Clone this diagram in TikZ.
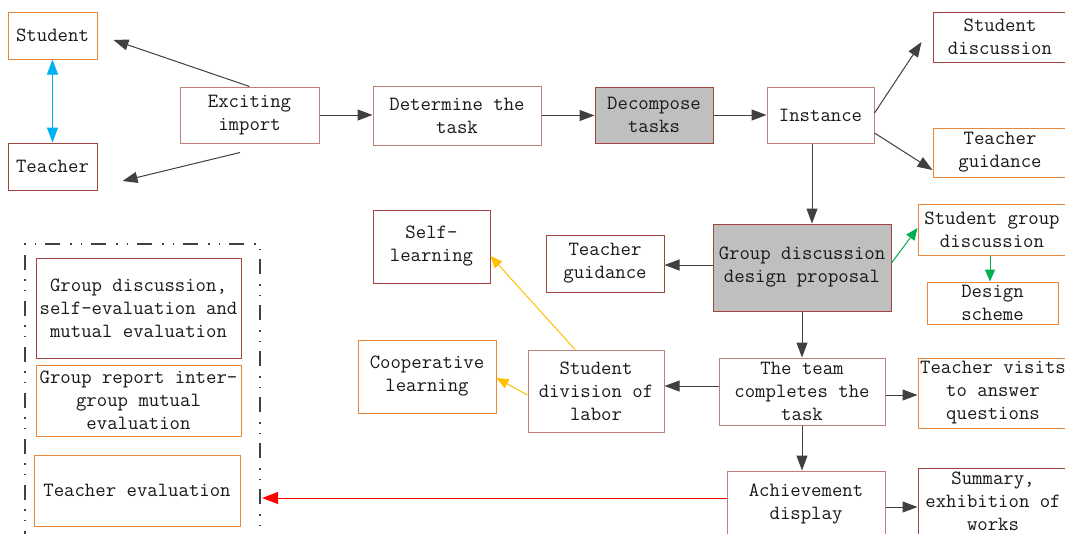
\documentclass[tikz,border=0pt]{standalone}
\usetikzlibrary{arrows.meta,calc}
\definecolor{brick}{HTML}{A5443F}
\definecolor{rosy}{HTML}{C07F7A}
\definecolor{amber}{HTML}{E9883A}
\definecolor{ink}{HTML}{404040}
\definecolor{shade}{HTML}{BFBFBF}
\definecolor{sky}{HTML}{00B0F0}
\definecolor{leaf}{HTML}{00B050}
\definecolor{gold}{HTML}{FFC000}
\definecolor{alarm}{HTML}{FF0000}
\begin{document}
\begin{tikzpicture}[x=1pt,y=-1pt,
  box/.style={draw=brick, rectangle, line width=1pt, align=center, inner sep=0pt,
    font=\ttfamily\fontsize{20.2}{23}\selectfont, text=black!90},
  rosebox/.style={box, draw=rosy},
  ambox/.style={box, draw=amber},
  greybox/.style={box, fill=shade},
  sz/.style 2 args={minimum width=#1pt, minimum height=#2pt},
  flow/.style={draw=ink, line width=1pt, -{Triangle[length=15pt,width=11pt]}},
  yflow/.style={draw=gold, line width=1pt, -{Triangle[length=12pt,width=10pt]}},
  gflow/.style={draw=leaf, line width=1pt, -{Triangle[length=12pt,width=10pt]}},
  frame/.style={draw=ink, line width=2.3pt,
    dash pattern=on 15pt off 9pt on 1.5pt off 9pt on 1.5pt off 10pt},
]
\clip (0,0) rectangle (1065,533);
\fill[white] (0,0) rectangle (1065,533);

% left pair and opening
\node[ambox, sz={89}{47}] (student) at (52.5,35.5) {Student};
\node[box, sz={89}{47}] (teacher) at (52.5,166.5) {Teacher};
\node[rosebox, sz={139}{56}] (exciting) at (249.5,115) {Exciting\\import};

% top row
\node[rosebox, sz={168}{59}] (determine) at (457,115.5) {Determine the\\task};
\node[greybox, sz={118}{56}] (decompose) at (654,115) {Decompose\\tasks};
\node[rosebox, sz={107}{56}] (instance) at (820.5,115) {Instance};
\node[box, sz={134}{50}] (studdisc) at (1000,37) {Student\\discussion};
\node[ambox, sz={134}{49}] (guideR) at (1000,152.5) {Teacher\\guidance};

% middle
\node[greybox, sz={178}{87}] (proposal) at (802,267.5) {Group discussion\\design proposal};
\node[ambox, sz={148}{51}] (groupdisc) at (992,229.5) {Student group\\discussion};
\node[ambox, sz={131}{42}] (scheme) at (992.5,303) {Design\\scheme};
\node[box, sz={118}{57}] (guideM) at (605,263.5) {Teacher\\guidance};
\node[box, sz={117}{73}] (self) at (431.5,246.5) {Self-\\learning};
\node[ambox, sz={138}{73}] (coop) at (427,376.5) {Cooperative\\learning};
\node[rosebox, sz={136}{82}] (division) at (596,391) {Student\\division of\\labor};
\node[rosebox, sz={166}{67}] (team) at (802,391.5) {The team\\completes the\\task};
\node[ambox, sz={150}{70}] (visits) at (993,393) {Teacher visits\\to answer\\questions};

% bottom
\node[rosebox, sz={158}{66}] (achieve) at (806,504) {Achievement\\display};
\node[box, sz={150}{66}] (summary) at (993,501) {Summary,\\exhibition of\\works};

% evaluation frame
\node[frame, rectangle, minimum width=235pt, minimum height=301pt, inner sep=0pt] (evalframe) at (142.5,394.5) {};
\node[box, sz={205}{100}] (mutual) at (138.5,308) {Group discussion,\\self-evaluation and\\mutual evaluation};
\node[ambox, sz={205}{71}] (report) at (138.5,400.5) {Group report inter-\\group mutual\\evaluation};
\node[ambox, sz={206}{71}] (teval) at (137,490.5) {Teacher evaluation};

% free ends of the opening arrows
\coordinate (toStudent) at ($(student.east)+(16,4.5)$);
\coordinate (fromExc) at ($(exciting.south)+(-9.5,9)$);
\coordinate (toTeacher) at ($(teacher.east)+(25,14.5)$);
\coordinate (toStuddisc) at ($(studdisc.west)+(-11,5)$);

% connectors
\draw[draw=sky, line width=1pt, {Triangle[length=15pt,width=11pt]}-{Triangle[length=15pt,width=11pt]}] (student.south) -- (teacher.north);
\draw[flow] (exciting.north) -- (toStudent);
\draw[flow] (fromExc) -- (toTeacher);
\draw[flow] (exciting.east) -- (exciting.east -| determine.west);
\draw[flow] (determine.east) -- (determine.east -| decompose.west);
\draw[flow] (decompose.east) -- (instance.west);
\draw[flow] ($(instance.east)+(0,-2)$) -- (toStuddisc);
\draw[flow] ($(instance.east)+(0,18)$) -- ($(guideR.west)+(0,17.5)$);
\draw[flow] ($(instance.south)+(-8.5,0)$) -- ($(proposal.north)+(10,0)$);
\draw[flow] ($(proposal.west)+(0,-2.5)$) -- ($(guideM.east)+(0,1.5)$);
\draw[gflow] ($(proposal.east)+(0,-4.5)$) -- ($(groupdisc.west)+(0,-1.5)$);
\draw[gflow] ($(groupdisc.south)+(-2,0)$) -- ($(scheme.north)+(-2.5,0)$);
\draw[flow] (proposal.south) -- (team.north);
\draw[flow] ($(team.west)+(0,-5.5)$) -- ($(division.east)+(0,-5)$);
\draw[yflow] ($(division.west)+(0,4)$) -- ($(coop.east)+(0,1.5)$);
\draw[yflow] ($(division.north)+(-21,0)$) -- ($(self.east)+(0,9.5)$);
\draw[flow] ($(team.east)+(0,3.5)$) -- ($(visits.west)+(0,2)$);
\draw[flow] (team.south) -- ($(achieve.north)+(-4,0)$);
\draw[flow] ($(achieve.east)+(0,3)$) -- ($(summary.west)+(0,6)$);
\draw[draw=alarm, line width=1pt, -{Triangle[length=16pt,width=12pt]}] ($(achieve.west)+(0,-6)$) -- ($(evalframe.east)+(1,103.5)$);
\end{tikzpicture}
\end{document}
